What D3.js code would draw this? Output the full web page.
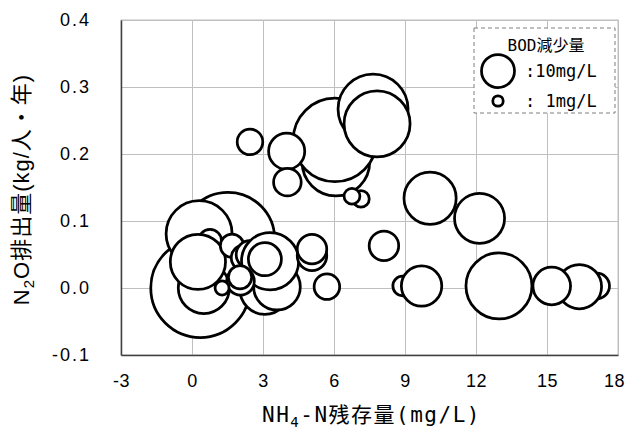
<!DOCTYPE html>
<html>
<head>
<meta charset="utf-8">
<script src="https://cdn.jsdelivr.net/npm/d3@7"></script>
<style>
  body { margin: 0; background: #fff; }
  .tick text { font-family: "Liberation Sans", Arial, sans-serif; font-size: 18px; letter-spacing: 2px; fill: #000; }
  .xaxis .tick text { letter-spacing: 0.5px; }
  .jp { font-family: "DejaVu Sans Mono", "Noto Sans CJK JP", monospace; fill: #000; }
</style>
</head>
<body>
<script>
// bubble data, in drawing order (later ones sit on top)
const nh4Residual = [1.52, 0.35, 0.30, 0.76, 0.50, 0.25, 1.69, 2.20, 2.45, 3.08, 3.59, 3.30, 3.08, 2.05, 2.03, 1.27,
                     5.07, 5.07, 5.70, 2.45, 6.08, 6.04, 4.00, 4.03, 7.14, 6.76, 7.65, 7.82, 8.11,
                     10.06, 12.15, 8.90, 9.70, 12.97, 17.10, 16.37, 15.20];
const n2oEmission = [0.073, 0.000, 0.081, 0.070, 0.000, 0.039, 0.063, 0.045, 0.050, -0.002, 0.002, 0.040, 0.043, 0.010, 0.016, 0.000,
                     0.048, 0.058, 0.002, 0.218, 0.188, 0.221, 0.204, 0.158, 0.133, 0.137, 0.267, 0.245, 0.063,
                     0.134, 0.104, 0.003, 0.003, 0.003, 0.003, 0.002, 0.003];
const bodDrop = [80, 90, 40, 5, 24, 28, 5, 6, 7, 23, 20, 30, 10, 7, 5, 1.8,
                 8, 8, 6, 6, 42, 64, 12, 7, 2.5, 2.3, 45, 40, 8,
                 25, 23, 3.5, 15, 40, 6, 18, 13];

const xTicks = [-3, 0, 3, 6, 9, 12, 15, 18];
const yTicks = [-0.1, 0.0, 0.1, 0.2, 0.3, 0.4];
const legendValues = [10, 1];
const legendLabels = [":10mg/L", ":  1mg/L"];

let margin = null, width = null, height = null;
let svg = null;
let x, y, r = null; // scales

setupCanvasSize();
appendSvg("body");
setupScales();
appendGrid();
appendAxes();
appendBubbles();
appendTitles();
appendLegend();

function setupCanvasSize() {
  margin = {top: 20, left: 121, bottom: 74, right: 11};
  width = 629 - margin.left - margin.right;
  height = 429 - margin.top - margin.bottom;
}

function appendSvg(domElement) {
  svg = d3.select(domElement).append("svg")
    .attr("width", 629)
    .attr("height", 429)
    .append("g")
    .attr("transform", `translate(${margin.left}, ${margin.top})`);
}

function setupScales() {
  x = d3.scaleLinear().domain([-3, 18]).range([0, width]);
  y = d3.scaleLinear().domain([-0.1, 0.4]).range([height, 0]);
  r = d3.scaleSqrt().domain([0, 10]).range([0, 16.5]);
}

// Grid + frame

function appendGrid() {
  svg.append("g")
    .attr("class", "grid")
    .attr("transform", `translate(0, ${height})`)
    .call(d3.axisBottom(x).tickValues(xTicks).tickSize(-height).tickFormat(""))
    .call(g => g.select(".domain").remove())
    .selectAll("line").attr("stroke", "#bfbfbf").attr("stroke-width", 1);

  svg.append("g")
    .attr("class", "grid")
    .call(d3.axisLeft(y).tickValues(yTicks).tickSize(-width).tickFormat(""))
    .call(g => g.select(".domain").remove())
    .selectAll("line").attr("stroke", "#bfbfbf").attr("stroke-width", 1);

  svg.append("rect")
    .attr("width", width)
    .attr("height", height)
    .attr("fill", "none")
    .attr("stroke", "#bfbfbf");
}

function appendAxes() {
  const xa = svg.append("g")
    .attr("class", "xaxis")
    .attr("transform", `translate(0, ${height})`)
    .call(d3.axisBottom(x).tickValues(xTicks).tickSize(0).tickPadding(19).tickFormat(d => String(d)));
  xa.select(".domain").attr("stroke", "#404040").attr("stroke-width", 1.5);
  xa.selectAll(".tick:last-of-type text").attr("dx", -4);

  const ya = svg.append("g")
    .call(d3.axisLeft(y).tickValues(yTicks).tickSize(0).tickPadding(30).tickFormat(d => d.toFixed(1)));
  ya.select(".domain").attr("stroke", "#404040").attr("stroke-width", 1.5);
}

// Bubbles

function appendBubbles() {
  svg.selectAll(".bubble")
    .data(bodDrop)
    .enter()
    .append("circle")
    .attr("class", "bubble")
    .attr("cx", (d, i) => x(nh4Residual[i]))
    .attr("cy", (d, i) => y(n2oEmission[i]))
    .attr("r", d => r(d))
    .attr("fill", "#fff")
    .attr("stroke", "#000")
    .attr("stroke-width", 2.75);
}

function appendTitles() {
  const xt = svg.append("text")
    .attr("class", "jp")
    .attr("x", width / 2 + 2)
    .attr("y", height + 67)
    .attr("text-anchor", "middle")
    .style("font-size", "21px")
    .style("letter-spacing", "1.5px");
  xt.append("tspan").text("NH");
  xt.append("tspan").attr("dy", 5).style("font-size", "14px").text("4");
  xt.append("tspan").attr("dy", -5).text("-N残存量(mg/L)");

  const yt = svg.append("text")
    .attr("transform", `translate(${-92}, ${y(0.15) + 2}) rotate(-90)`)
    .attr("text-anchor", "middle")
    .style("font-family", "'Liberation Sans', 'Noto Sans CJK JP', sans-serif")
    .style("font-size", "22px")
    .style("letter-spacing", "1px")
    .style("fill", "#000");
  yt.append("tspan").text("N");
  yt.append("tspan").attr("dy", 5).style("font-size", "15px").text("2");
  yt.append("tspan").attr("dy", -5).text("O排出量(kg/人・年)");
}

// Legend

function appendLegend() {
  const lx = x(12) - 2, ly = 8;
  const lg = svg.append("g").attr("transform", `translate(${lx}, ${ly})`);
  lg.append("rect")
    .attr("width", 141)
    .attr("height", 85)
    .attr("fill", "#fff")
    .attr("stroke", "#7f7f7f")
    .attr("stroke-dasharray", "4,3");
  lg.append("text")
    .attr("class", "jp")
    .attr("x", 72)
    .attr("y", 23)
    .attr("text-anchor", "middle")
    .style("font-size", "16px")
    .text("BOD減少量");

  const item = lg.selectAll(".item")
    .data(legendValues)
    .enter()
    .append("g")
    .attr("class", "item")
    .attr("transform", (d, i) => `translate(24, ${43 + i * 30})`);
  item.append("circle")
    .attr("r", d => r(d))
    .attr("fill", "#fff")
    .attr("stroke", "#000")
    .attr("stroke-width", 2.75);
  item.append("text")
    .attr("class", "jp")
    .attr("x", 27)
    .attr("y", 6)
    .style("font-size", "17px")
    .text((d, i) => legendLabels[i]);
}
</script>
</body>
</html>
